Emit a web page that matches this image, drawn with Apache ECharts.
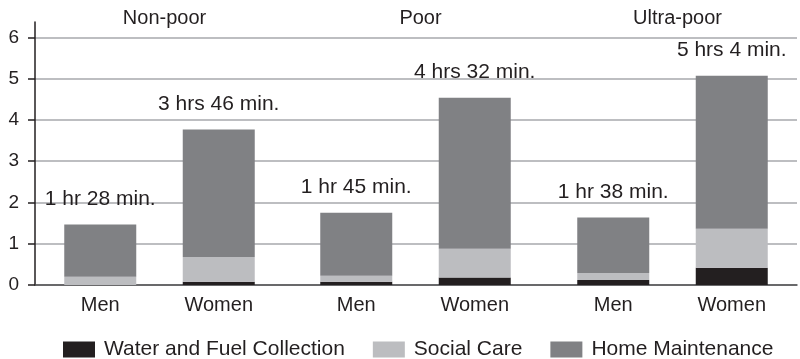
<!DOCTYPE html>
<html><head><meta charset="utf-8">
<script src="https://cdn.jsdelivr.net/npm/echarts@6/dist/echarts.min.js"></script>
<style>html,body{margin:0;padding:0;background:#fff}#c{width:800px;height:359px}</style>
</head><body><div id="c"></div>
<script>
const groups = ["Non-poor", "Poor", "Ultra-poor"];
const categories = ["Men", "Women"];
const yTicks = [0, 1, 2, 3, 4, 5, 6];
// per group: [Men, Women]
const water = [[0.0, 0.08], [0.08, 0.18], [0.12, 0.42]];
const social = [[0.2, 0.6], [0.145, 0.7], [0.17, 0.94]];
const home = [[1.267, 3.087], [1.525, 3.653], [1.343, 3.707]];
const totalLabels = [["1 hr 28 min.", "3 hrs 46 min."], ["1 hr 45 min.", "4 hrs 32 min."], ["1 hr 38 min.", "5 hrs 4 min."]];
const seriesNames = ["Water and Fuel Collection", "Social Care", "Home Maintenance"];
const colors = ["#231f20", "#bcbdc0", "#808184"];

const YMAX = 6.37;
const TOP = 22, BOTTOM = 74;
const groupLefts = [41, 297, 554];
const groupWidth = 237;
const dark = "#231f20";
const sans = "'Liberation Sans', Arial, sans-serif";

const grid = [{left: 35, right: 3, top: TOP, bottom: BOTTOM}];
const xAxis = [{gridIndex: 0, type: 'value', min: 0, max: 1, show: true,
  axisLine: {show: true, onZero: false, lineStyle: {color: '#4d4d4f', width: 1.5}},
  axisTick: {show: false}, axisLabel: {show: false}, splitLine: {show: false}}];
const yAxis = [{gridIndex: 0, type: 'value', min: 0, max: YMAX, interval: 1,
  axisLine: {show: true, lineStyle: {color: dark, width: 1.5}},
  axisTick: {show: true, length: 7, lineStyle: {color: dark, width: 1.5}, customValues: yTicks},
  axisLabel: {color: dark, fontSize: 19, fontFamily: sans, margin: 16, customValues: yTicks},
  splitLine: {show: true, lineStyle: {color: '#a7a9ac', width: 1.5}}}];
const series = [];
const title = [];
groups.forEach((g, gi) => {
  const idx = gi + 1;
  grid.push({left: groupLefts[gi], width: groupWidth, top: TOP, bottom: BOTTOM});
  xAxis.push({gridIndex: idx, type: 'category', data: categories,
    axisLine: {show: false}, axisTick: {show: false},
    axisLabel: {color: dark, fontSize: 20, fontFamily: sans, margin: 10}});
  yAxis.push({gridIndex: idx, type: 'value', min: 0, max: YMAX, show: false, splitLine: {show: false}});
  title.push({text: g, left: groupLefts[gi] + groupWidth / 2, textAlign: 'center', top: 3,
    textStyle: {color: dark, fontSize: 20, fontWeight: 'normal', fontFamily: sans}});
  [water, social, home].forEach((arr, si) => {
    const s = {name: seriesNames[si], type: 'bar', stack: 'g' + gi, xAxisIndex: idx, yAxisIndex: idx,
      barWidth: 72, itemStyle: {color: colors[si]}, data: arr[gi]};
    if (si === 2) {
      s.label = {show: true, position: 'top', distance: 15, color: dark, fontSize: 21, fontFamily: sans,
        formatter: p => totalLabels[gi][p.dataIndex]};
    }
    series.push(s);
  });
});

const chart = echarts.init(document.getElementById('c'), null, {renderer: 'canvas'});
chart.setOption({
  animation: false,
  title: title,
  grid: grid, xAxis: xAxis, yAxis: yAxis, series: series,
  legend: {data: seriesNames, left: 58, top: 334, itemWidth: 32, itemHeight: 16, itemGap: 28,
    icon: 'rect', textStyle: {color: dark, fontSize: 21, fontFamily: sans, padding: [0, 0, 0, 4]}}
});
</script></body></html>
